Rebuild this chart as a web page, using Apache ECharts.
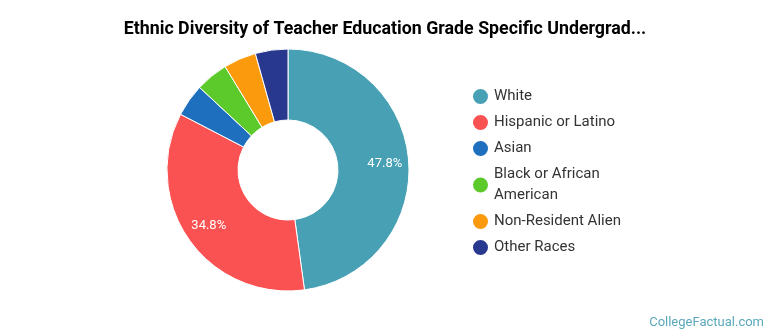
<!DOCTYPE html>
<html>
<head>
<meta charset="utf-8">
<script src="https://cdn.jsdelivr.net/npm/echarts@6/dist/echarts.min.js"></script>
<style>
  html, body { margin: 0; padding: 0; background: #fff; }
  #chart { width: 770px; height: 335px; }
</style>
</head>
<body>
<div id="chart"></div>
<script>
  // student counts per group (shares 47.8%, 34.8%, 4.3% x4)
  var categories = ['White', 'Hispanic or Latino', 'Asian', 'Black or African American', 'Non-Resident Alien', 'Other Races'];
  var counts = [11, 8, 1, 1, 1, 1];
  var colors = ['#48a0b4', '#fa5152', '#1e6fbe', '#5dca2b', '#fb9a0c', '#29388f'];
  var minLabelPercent = 10;

  var pieData = categories.map(function (name, i) {
    return { name: name, value: counts[i], itemStyle: { color: colors[i] } };
  });

  var myChart = echarts.init(document.getElementById('chart'));
  myChart.setOption({
    animation: false,
    title: {
      text: 'Ethnic Diversity of Teacher Education Grade Specific Undergrad...',
      left: 'center',
      top: 16,
      textStyle: { fontFamily: 'Roboto', fontWeight: 'bold', fontSize: 17.8, color: '#000' }
    },
    legend: {
      orient: 'vertical',
      left: 466,
      top: 81,
      icon: 'circle',
      itemWidth: 17,
      itemHeight: 17,
      itemGap: 5,
      data: categories,
      textStyle: {
        fontFamily: 'Roboto', fontSize: 15, color: '#333',
        lineHeight: 21, width: 140, overflow: 'break'
      }
    },
    graphic: [{
      type: 'text',
      right: 6,
      bottom: 6,
      style: { text: 'CollegeFactual.com', fill: '#5aa8ba', font: '13px Roboto' }
    }],
    series: [
      {
        type: 'pie',
        center: [288, 170],
        radius: [50, 121],
        startAngle: 90,
        clockwise: true,
        silent: true,
        itemStyle: { borderColor: '#fff', borderWidth: 1 },
        label: { show: false },
        labelLine: { show: false },
        data: pieData
      },
      {
        // invisible copy, only used to place the percent labels
        type: 'pie',
        center: [288, 170],
        radius: [0, 188],
        startAngle: 90,
        clockwise: true,
        silent: true,
        legendHoverLink: false,
        itemStyle: { color: 'rgba(0,0,0,0)', borderWidth: 0 },
        label: {
          show: true,
          position: 'inside',
          color: '#fff',
          fontFamily: 'Roboto',
          fontSize: 13,
          formatter: function (p) {
            return p.percent >= minLabelPercent ? p.percent.toFixed(1) + '%' : '';
          }
        },
        labelLine: { show: false },
        data: categories.map(function (name, i) {
          return { name: name, value: counts[i] };
        })
      }
    ]
  });
</script>
</body>
</html>
